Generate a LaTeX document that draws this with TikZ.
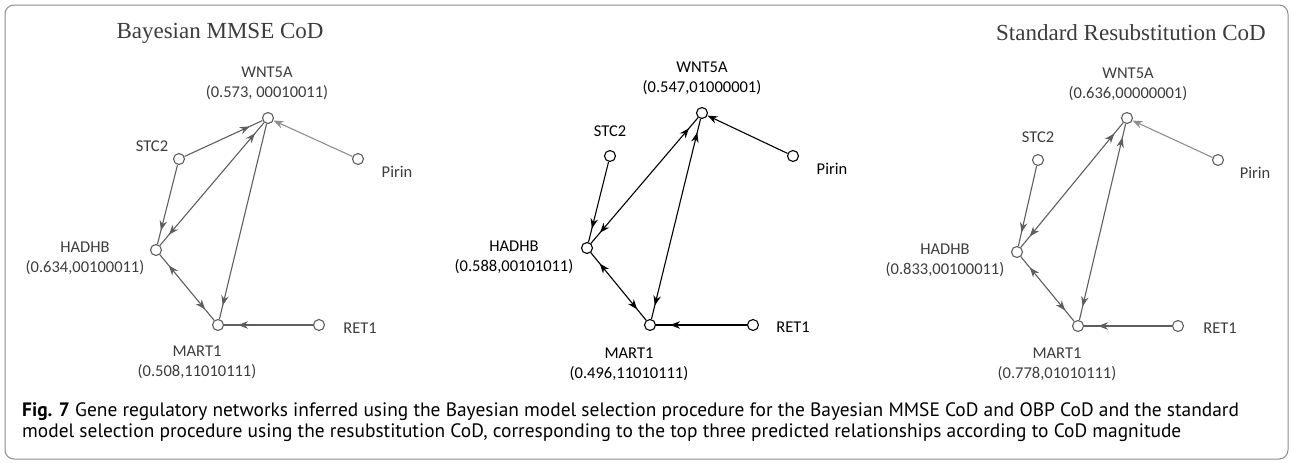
\documentclass[tikz,border=0pt]{standalone}
\usepackage{fontspec}
\usetikzlibrary{arrows.meta,decorations.markings}
\newfontfamily\genefont{Carlito}
\newfontfamily\capfont{PT Sans}
\newfontfamily\headfont{Liberation Serif}
\definecolor{fadeline}{HTML}{5E5E5E}
\definecolor{fadetext}{HTML}{3C3C3C}
\definecolor{boxline}{HTML}{8C8C8C}
\newcommand{\drawgene}{\node[draw,circle,minimum size=11pt,inner sep=0,line width=1.1pt]}
\newcommand{\drawname}{\node[align=center,font=\genefont\fontsize{16.5}{20}\selectfont]}
\newcommand{\drawhead}{\node[font=\headfont\fontsize{23}{26}\selectfont]}
\newcommand{\drawcap}{\node[anchor=base west,inner sep=0,font=\capfont\fontsize{19.4}{22}\selectfont]}
\tikzset{
  edge/.style={line width=1.1pt},
  tohead/.style={edge, postaction={decorate},
    decoration={markings, mark=at position -14pt with {\arrow{Stealth[length=10pt,width=7.5pt]}}}},
  bothhead/.style={edge, postaction={decorate},
    decoration={markings,
      mark=at position 14pt with {\arrowreversed{Stealth[length=10pt,width=7.5pt]}},
      mark=at position -14pt with {\arrow{Stealth[length=10pt,width=7.5pt]}}}},
  tonode/.style={edge, -{Stealth[length=10pt,width=7.5pt]}},
}

\begin{document}
\begin{tikzpicture}[x=1pt, y=-1pt]
\useasboundingbox (0,0) rectangle (1291,463);
\draw[boxline, line width=1pt, rounded corners=9pt] (5,5) rectangle (1288,459);

%Bayesian MMSE CoD
\begin{scope}[color=fadeline, text=fadetext]
\drawhead (headA) at (220,33) {Bayesian MMSE CoD};
\drawgene (wntA) at (268,118) {};
\drawgene (stcA) at (179,159) {};
\drawgene (pirA) at (358,159) {};
\drawgene (hadA) at (156,250) {};
\drawgene (marA) at (218,325) {};
\drawgene (retA) at (319,325) {};
\drawname (wntAl) at (267,83) {WNT5A\\(0.573, 00010011)};
\drawname (stcAl) at (152,146) {STC2};
\drawname (pirAl) at (397,172) {Pirin};
\drawname (hadAl) at (85,258) {HADHB\\(0.634,00100011)};
\drawname (marAl) at (197,362) {MART1\\(0.508,11010111)};
\drawname (retAl) at (360,328) {RET1};

\draw[tohead] (stcA) -- (wntA);
\draw[tohead] (stcA) -- (hadA);
\draw[bothhead] (hadA) -- (wntA);
\draw[tohead] (wntA) -- (marA);
\draw[tonode, fadeline!70] (pirA) -- (wntA);
\draw[bothhead] (hadA) -- (marA);
\draw[tohead] (retA) -- (marA);
\end{scope}

%OBP CoD
\drawgene (wntB) at (702,113) {};
\drawgene (stcB) at (610,156) {};
\drawgene (pirB) at (793,156) {};
\drawgene (hadB) at (587,248) {};
\drawgene (marB) at (650,325) {};
\drawgene (retB) at (753,325) {};
\drawname (wntBl) at (702,78) {WNT5A\\(0.547,01000001)};
\drawname (stcBl) at (610,131) {STC2};
\drawname (pirBl) at (832,169) {Pirin};
\drawname (hadBl) at (514,257) {HADHB\\(0.588,00101011)};
\drawname (marBl) at (629,364) {MART1\\(0.496,11010111)};
\drawname (retBl) at (793,327) {RET1};

\draw[tohead] (stcB) -- (hadB);
\draw[bothhead] (hadB) -- (wntB);
\draw[bothhead] (marB) -- (wntB);
\draw[tonode] (pirB) -- (wntB);
\draw[bothhead] (hadB) -- (marB);
\draw[tohead] (retB) -- (marB);

%Standard Resubstitution CoD
\begin{scope}[color=fadeline, text=fadetext]
\drawhead (headC) at (1131,33) {Standard Resubstitution CoD};
\drawgene (wntC) at (1127,118) {};
\drawgene (stcC) at (1038,160) {};
\drawgene (pirC) at (1218,160) {};
\drawgene (hadC) at (1017,252) {};
\drawgene (marC) at (1078,326) {};
\drawgene (retC) at (1178,326) {};
\drawname (wntCl) at (1128,84) {WNT5A\\(0.636,00000001)};
\drawname (stcCl) at (1038,137) {STC2};
\drawname (pirCl) at (1255,173) {Pirin};
\drawname (hadCl) at (945,260) {HADHB\\(0.833,00100011)};
\drawname (marCl) at (1057,364) {MART1\\(0.778,01010111)};
\drawname (retCl) at (1220,328) {RET1};

\draw[tohead] (stcC) -- (hadC);
\draw[bothhead] (hadC) -- (wntC);
\draw[bothhead] (marC) -- (wntC);
\draw[tonode, fadeline!70] (pirC) -- (wntC);
\draw[bothhead] (hadC) -- (marC);
\draw[tohead] (retC) -- (marC);
\end{scope}

%caption
\drawcap (capA) at (22,416) {\textbf{Fig. 7} Gene regulatory networks inferred using the Bayesian model selection procedure for the Bayesian MMSE CoD and OBP CoD and the standard};
\drawcap (capB) at (22,437) {model selection procedure using the resubstitution CoD, corresponding to the top three predicted relationships according to CoD magnitude};
\end{tikzpicture}
\end{document}
